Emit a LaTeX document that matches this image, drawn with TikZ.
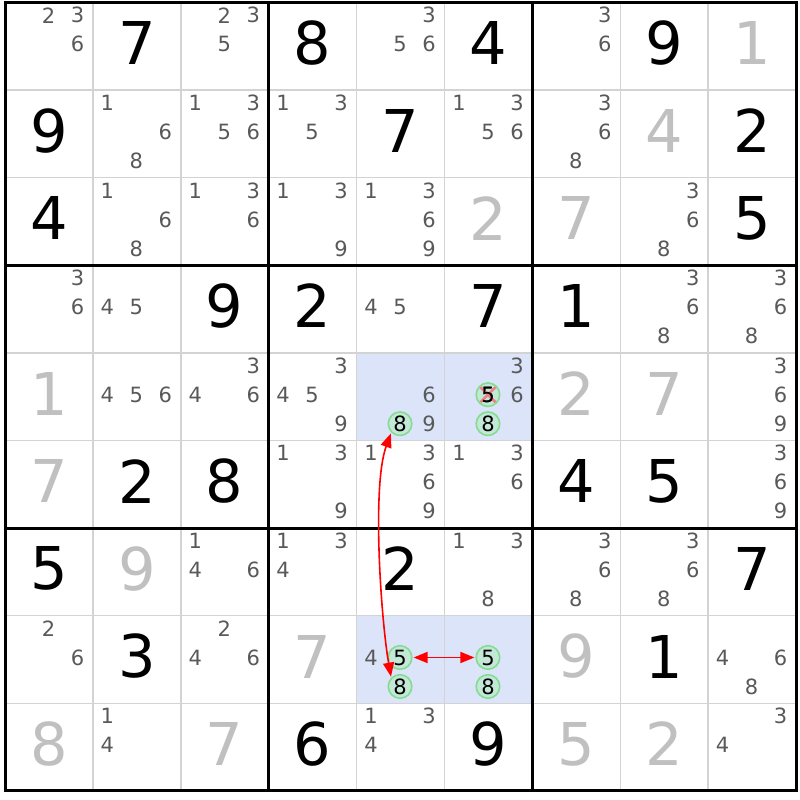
\documentclass[tikz,border=0pt]{standalone}
\usepackage{fontspec}
\setmainfont{DejaVu Sans}
\usetikzlibrary{arrows.meta}
\definecolor{candc}{HTML}{595959}
\definecolor{givc}{HTML}{000000}
\definecolor{solc}{HTML}{C0C0C0}
\definecolor{hil}{HTML}{DBE4F9}
\definecolor{thin}{HTML}{D3D3D3}
\definecolor{ringc}{HTML}{84DC90}
\definecolor{ringf}{HTML}{C4E8D8}
\definecolor{crossc}{HTML}{F08080}
\tikzset{
  bigdig/.style={inner sep=0pt, font=\fontsize{59}{59}\selectfont},
  cand/.style={inner sep=0pt, text=candc, font=\fontsize{21}{21}\selectfont},
  circd/.style={circle, inner sep=0pt, minimum size=23.5pt, draw=ringc, fill=ringf, line width=1.6pt, text=black, font=\fontsize{21}{21}\selectfont},
  thinline/.style={draw=thin, line width=1.5pt},
  thickline/.style={draw=black, line width=3pt},
  link/.style={draw=red, line width=1.6pt, {Triangle[length=14pt,width=11pt]}-{Triangle[length=14pt,width=11pt]}, shorten <=1pt, shorten >=1pt},
}
\newcommand\cx[1]{5+87.9*(#1-0.5)}
\newcommand\cy[1]{797.5-87.6*(#1-0.5)}
\newcommand\bigd[4]{\node[bigdig, text=#4] (n#1#2) at ({\cx{#2}},{\cy{#1}+3}) {#3};}
\newcommand\cand[3]{\foreach \d in {#3}{%
  \pgfmathsetmacro\cc{mod(\d-1,3)}\pgfmathsetmacro\rr{int((\d-1)/3)}%
  \node[cand] (n#1#2-\d) at ({\cx{#2}+(\cc-1)*29-0.5},{\cy{#1}+2-(\rr-1)*29}) {\d};}}
\newcommand\ccand[3]{%
  \pgfmathsetmacro\cc{mod(#3-1,3)}\pgfmathsetmacro\rr{int((#3-1)/3)}%
  \node[circd] (a#1#2-#3) at ({\cx{#2}+(\cc-1)*29-0.5},{\cy{#1}+2-(\rr-1)*29}) {#3};}
\begin{document}
\begin{tikzpicture}[x=1pt,y=1pt]
\useasboundingbox (0,0) rectangle (800,800);
\fill[white] (0,0) rectangle (800,800);
% highlighted cells
\foreach \r/\c in {5/5,5/6,8/5,8/6}{
  \fill[hil] ({5+87.9*(\c-1)},{797.5-87.6*(\r-1)}) rectangle ({5+87.9*\c},{797.5-87.6*\r});
}
% thin lines
\foreach \i in {1,2,4,5,7,8}{
  \draw[thinline] ({5+87.9*\i},797.5) -- ({5+87.9*\i},{797.5-87.6*9});
  \draw[thinline] (5,{797.5-87.6*\i}) -- ({5+87.9*9},{797.5-87.6*\i});
}
% thick lines
\foreach \i in {3,6}{
  \draw[thickline] ({5+87.9*\i},797.5) -- ({5+87.9*\i},{797.5-87.6*9});
  \draw[thickline] (5,{797.5-87.6*\i}) -- ({5+87.9*9},{797.5-87.6*\i});
}
\draw[thickline] (5,797.5) rectangle ({5+87.9*9},{797.5-87.6*9});
% row 1
\cand{1}{1}{2,3,6}\bigd{1}{2}{7}{givc}\cand{1}{3}{2,3,5}\bigd{1}{4}{8}{givc}\cand{1}{5}{3,5,6}
\bigd{1}{6}{4}{givc}\cand{1}{7}{3,6}\bigd{1}{8}{9}{givc}\bigd{1}{9}{1}{solc}
% row 2
\bigd{2}{1}{9}{givc}\cand{2}{2}{1,6,8}\cand{2}{3}{1,3,5,6}\cand{2}{4}{1,3,5}\bigd{2}{5}{7}{givc}
\cand{2}{6}{1,3,5,6}\cand{2}{7}{3,6,8}\bigd{2}{8}{4}{solc}\bigd{2}{9}{2}{givc}
% row 3
\bigd{3}{1}{4}{givc}\cand{3}{2}{1,6,8}\cand{3}{3}{1,3,6}\cand{3}{4}{1,3,9}\cand{3}{5}{1,3,6,9}
\bigd{3}{6}{2}{solc}\bigd{3}{7}{7}{solc}\cand{3}{8}{3,6,8}\bigd{3}{9}{5}{givc}
% row 4
\cand{4}{1}{3,6}\cand{4}{2}{4,5}\bigd{4}{3}{9}{givc}\bigd{4}{4}{2}{givc}\cand{4}{5}{4,5}
\bigd{4}{6}{7}{givc}\bigd{4}{7}{1}{givc}\cand{4}{8}{3,6,8}\cand{4}{9}{3,6,8}
% row 5
\bigd{5}{1}{1}{solc}\cand{5}{2}{4,5,6}\cand{5}{3}{3,4,6}\cand{5}{4}{3,4,5,9}\cand{5}{5}{6,9}
\ccand{5}{5}{8}\cand{5}{6}{3,6}\ccand{5}{6}{5}\ccand{5}{6}{8}
\bigd{5}{7}{2}{solc}\bigd{5}{8}{7}{solc}\cand{5}{9}{3,6,9}
\draw[crossc, line width=2.6pt] ([shift={(-7.5,-7.5)}]a56-5.center) -- ([shift={(7.5,7.5)}]a56-5.center)
  ([shift={(-7.5,7.5)}]a56-5.center) -- ([shift={(7.5,-7.5)}]a56-5.center);
\node[inner sep=0pt, text=black, font=\fontsize{21}{21}\selectfont] (t56-5) at (a56-5.center) {5};
% row 6
\bigd{6}{1}{7}{solc}\bigd{6}{2}{2}{givc}\bigd{6}{3}{8}{givc}\cand{6}{4}{1,3,9}\cand{6}{5}{1,3,6,9}
\cand{6}{6}{1,3,6}\bigd{6}{7}{4}{givc}\bigd{6}{8}{5}{givc}\cand{6}{9}{3,6,9}
% row 7
\bigd{7}{1}{5}{givc}\bigd{7}{2}{9}{solc}\cand{7}{3}{1,4,6}\cand{7}{4}{1,3,4}\bigd{7}{5}{2}{givc}
\cand{7}{6}{1,3,8}\cand{7}{7}{3,6,8}\cand{7}{8}{3,6,8}\bigd{7}{9}{7}{givc}
% row 8
\cand{8}{1}{2,6}\bigd{8}{2}{3}{givc}\cand{8}{3}{2,4,6}\bigd{8}{4}{7}{solc}\cand{8}{5}{4}
\ccand{8}{5}{5}\ccand{8}{5}{8}\ccand{8}{6}{5}\ccand{8}{6}{8}
\bigd{8}{7}{9}{solc}\bigd{8}{8}{1}{givc}\cand{8}{9}{4,6,8}
% row 9
\bigd{9}{1}{8}{solc}\cand{9}{2}{1,4}\bigd{9}{3}{7}{solc}\bigd{9}{4}{6}{givc}\cand{9}{5}{1,3,4}
\bigd{9}{6}{9}{givc}\bigd{9}{7}{5}{solc}\bigd{9}{8}{2}{solc}\cand{9}{9}{3,4}
% links
\draw[link] (a85-8.135) to[out=100, in=250, looseness=0.6] (a55-8.225);
\draw[link] (a85-5) -- (a86-5);
\end{tikzpicture}
\end{document}
